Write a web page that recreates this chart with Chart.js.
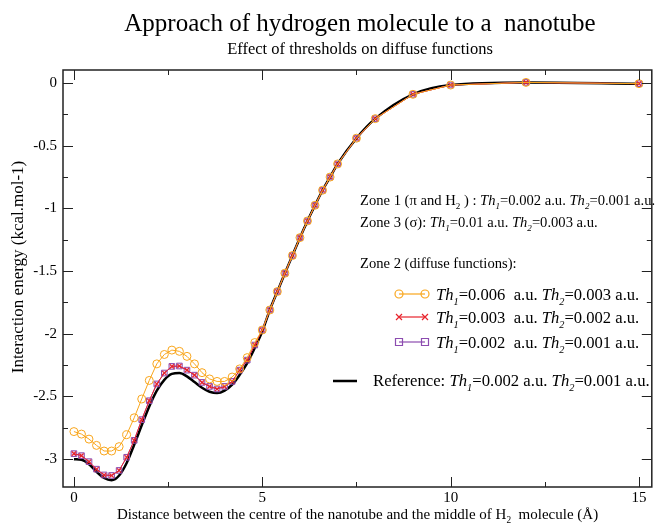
<!DOCTYPE html>
<html>
<head>
<meta charset="utf-8">
<script src="https://cdn.jsdelivr.net/npm/chart.js@4/dist/chart.umd.min.js"></script>
<style>
  html, body { margin: 0; padding: 0; background: #fff; }
  #wrap { width: 657px; height: 524px; }
</style>
</head>
<body>
<div id="wrap"><canvas id="c" width="657" height="524"></canvas></div>
<script>
// distance between nanotube centre and H2 middle (Å)
const distance = [0, 0.2, 0.4, 0.6, 0.8, 1.0, 1.2, 1.4, 1.6, 1.8, 2.0, 2.2, 2.4, 2.6, 2.8, 3.0, 3.2, 3.4, 3.6, 3.8,
    4.0, 4.2, 4.4, 4.6, 4.8, 5.0, 5.2, 5.4, 5.6, 5.8, 6.0, 6.2, 6.4, 6.6, 6.8, 7.0, 7.5, 8, 9, 10, 12, 15];

// interaction energy (kcal/mol)
const th006 = [-2.78, -2.80, -2.84, -2.89, -2.935, -2.935, -2.90, -2.805, -2.67, -2.52, -2.372, -2.24, -2.165, -2.13, -2.14,
    -2.18, -2.24, -2.31, -2.36, -2.38, -2.38, -2.345, -2.28, -2.19, -2.07, -1.97, -1.81, -1.663, -1.517, -1.376,
    -1.233, -1.10, -0.975, -0.855, -0.75, -0.645, -0.44, -0.284, -0.09, -0.016, 0.005, -0.005];
const th003 = [-2.956, -2.972, -3.02, -3.08, -3.126, -3.13, -3.09, -2.985, -2.85, -2.685, -2.534, -2.40, -2.313, -2.26, -2.257,
    -2.29, -2.33, -2.388, -2.42, -2.44, -2.42, -2.38, -2.29, -2.21, -2.09, -1.97, -1.81, -1.663, -1.517, -1.376,
    -1.233, -1.10, -0.975, -0.855, -0.75, -0.645, -0.44, -0.284, -0.09, -0.016, 0.005, -0.005];
const th002 = [-2.956, -2.972, -3.02, -3.08, -3.126, -3.13, -3.09, -2.985, -2.85, -2.685, -2.534, -2.40, -2.313, -2.26, -2.257,
    -2.29, -2.33, -2.388, -2.42, -2.44, -2.42, -2.38, -2.29, -2.21, -2.09, -1.97, -1.81, -1.663, -1.517, -1.376,
    -1.233, -1.10, -0.975, -0.855, -0.75, -0.645, -0.44, -0.284, -0.09, -0.016, 0.005, -0.005];
const reference = [-3.00, -3.005, -3.04, -3.10, -3.15, -3.168, -3.13, -3.03, -2.885, -2.73, -2.58, -2.454, -2.367, -2.32, -2.313,
    -2.34, -2.385, -2.43, -2.462, -2.473, -2.454, -2.406, -2.327, -2.234, -2.114, -1.98, -1.81, -1.663, -1.517, -1.376,
    -1.233, -1.10, -0.975, -0.855, -0.75, -0.645, -0.44, -0.284, -0.09, -0.016, 0.005, -0.005];

const xTicks = [0, 5, 10, 15];
const yTicks = [-3, -2.5, -2, -1.5, -1, -0.5, 0];

const ORANGE = '#f9a61c', RED = '#e8232c', PURPLE = '#8c4cb0';
const SERIF = '"Liberation Serif", "DejaVu Serif", serif';

const pts = arr => arr.map((y, i) => ({ x: distance[i], y }));

// draw text made of pieces, some italic, some lowered subscripts
const rich = (ctx, parts, x, y, size) => {
    for (const p of parts) {
        const s = p.sub ? size * 0.62 : size;
        ctx.font = `${p.it ? 'italic ' : ''}${s}px ${SERIF}`;
        ctx.fillText(p.t, x, y + (p.sub ? size * 0.28 : 0));
        x += ctx.measureText(p.t).width;
    }
    return x;
}

const thText = (a, b, gap) => [
    { t: 'Th', it: true }, { t: '1', it: true, sub: true }, { t: `=${a}${gap}a.u. ` },
    { t: 'Th', it: true }, { t: '2', it: true, sub: true }, { t: `=${b} a.u.` }
];

const marker = (ctx, kind, x, y) => {
    ctx.beginPath();
    if (kind === 'circle') ctx.arc(x, y, 4, 0, Math.PI * 2);
    else if (kind === 'rect') ctx.rect(x - 3.5, y - 3.5, 7, 7);
    else { ctx.moveTo(x - 3, y - 3); ctx.lineTo(x + 3, y + 3); ctx.moveTo(x + 3, y - 3); ctx.lineTo(x - 3, y + 3); }
    ctx.stroke();
}

const decor = {
    id: 'decor',
    afterDraw(chart) {
        const ctx = chart.ctx;
        const { left, right, top, bottom } = chart.chartArea;
        const xs = chart.scales.x, ys = chart.scales.y;
        ctx.save();
        ctx.fillStyle = '#000';
        ctx.strokeStyle = '#222';
        ctx.lineWidth = 1.5;
        ctx.strokeRect(left, top, right - left, bottom - top);

        // inward ticks on all four sides
        ctx.lineWidth = 1;
        ctx.beginPath();
        for (let v = 0; v <= 15; v += 2.5) {
            const px = Math.round(xs.getPixelForValue(v)) + 0.5;
            const len = v % 5 === 0 ? 10 : 5;
            ctx.moveTo(px, bottom); ctx.lineTo(px, bottom - len);
            ctx.moveTo(px, top); ctx.lineTo(px, top + len);
        }
        for (let v = -3; v <= 0.001; v += 0.25) {
            const py = Math.round(ys.getPixelForValue(v)) + 0.5;
            const len = Math.abs(v * 2 - Math.round(v * 2)) < 0.01 ? 10 : 5;
            ctx.moveTo(left, py); ctx.lineTo(left + len, py);
            ctx.moveTo(right, py); ctx.lineTo(right - len, py);
        }
        ctx.stroke();

        // titles
        ctx.textAlign = 'center';
        ctx.font = `25px ${SERIF}`;
        ctx.fillText('Approach of hydrogen molecule to a  nanotube', 360, 31);
        ctx.font = `16.5px ${SERIF}`;
        ctx.fillText('Effect of thresholds on diffuse functions', 360, 54);

        ctx.save();
        ctx.translate(23, 267);
        ctx.rotate(-Math.PI / 2);
        ctx.font = `17px ${SERIF}`;
        ctx.fillText('Interaction energy (kcal.mol-1)', 0, 0);
        ctx.restore();

        ctx.textAlign = 'left';
        rich(ctx, [{ t: 'Distance between the centre of the nanotube and the middle of H' }, { t: '2', sub: true },
            { t: '  molecule (Å)' }], 117, 519, 15);

        // annotations
        rich(ctx, [{ t: 'Zone 1 (π and H' }, { t: '2', sub: true }, { t: ' ) : ' }, ...thText('0.002', '0.001', ' ')], 360, 205, 14.6);
        rich(ctx, [{ t: 'Zone 3 (σ): ' }, ...thText('0.01', '0.003', ' ')], 360, 227, 14.6);
        rich(ctx, [{ t: 'Zone 2 (diffuse functions):' }], 360, 268, 14.6);

        const rows = [
            { c: ORANGE, m: 'circle', a: '0.006', b: '0.003', y: 294 },
            { c: RED, m: 'cross', a: '0.003', b: '0.002', y: 317 },
            { c: PURPLE, m: 'rect', a: '0.002', b: '0.001', y: 342 }
        ];
        for (const r of rows) {
            ctx.strokeStyle = r.c;
            ctx.lineWidth = 1.2;
            ctx.beginPath(); ctx.moveTo(399, r.y); ctx.lineTo(425, r.y); ctx.stroke();
            marker(ctx, r.m, 399, r.y);
            marker(ctx, r.m, 425, r.y);
            rich(ctx, thText(r.a, r.b, '  '), 436, r.y + 6, 16.6);
        }
        ctx.strokeStyle = '#000';
        ctx.lineWidth = 2.5;
        ctx.beginPath(); ctx.moveTo(333, 381); ctx.lineTo(357, 381); ctx.stroke();
        rich(ctx, [{ t: 'Reference: ' }, ...thText('0.002', '0.001', ' ')], 373, 386, 16.7);
        ctx.restore();
    }
};

new Chart(document.getElementById('c'), {
    type: 'line',
    data: {
        datasets: [
            { label: 'Th1=0.006 Th2=0.003', data: pts(th006), borderColor: ORANGE, borderWidth: 1,
              pointStyle: 'circle', pointRadius: 4, pointBorderColor: ORANGE, pointBackgroundColor: 'rgba(0,0,0,0)',
              pointBorderWidth: 1, tension: 0 },
            { label: 'Th1=0.003 Th2=0.002', data: pts(th003), borderColor: RED, borderWidth: 1,
              pointStyle: 'crossRot', pointRadius: 3, pointBorderColor: RED, pointBorderWidth: 1.2, tension: 0 },
            { label: 'Th1=0.002 Th2=0.001', data: pts(th002), borderColor: PURPLE, borderWidth: 1,
              pointStyle: 'rect', pointRadius: 4, pointBorderColor: PURPLE, pointBackgroundColor: 'rgba(140,76,176,0.15)',
              pointBorderWidth: 1, tension: 0 },
            { label: 'Reference', data: pts(reference), borderColor: '#000', borderWidth: 2.5,
              pointRadius: 0, cubicInterpolationMode: 'monotone', order: 5 }
        ]
    },
    options: {
        responsive: false,
        animation: false,
        layout: { padding: { top: 70, right: 1, left: 0, bottom: 0 } },
        plugins: { legend: { display: false }, tooltip: { enabled: false } },
        scales: {
            x: {
                type: 'linear', min: -0.29, max: 15.34,
                afterBuildTicks: s => { s.ticks = xTicks.map(value => ({ value })); },
                afterFit: s => { s.height = 37; },
                grid: { display: false, drawTicks: false }, border: { display: false },
                ticks: { color: '#000', font: { family: SERIF, size: 15 }, padding: 2, maxRotation: 0, callback: v => String(v) }
            },
            y: {
                type: 'linear', min: -3.222, max: 0.104,
                afterBuildTicks: s => { s.ticks = yTicks.map(value => ({ value })); },
                afterFit: s => { s.width = 63; },
                grid: { display: false, drawTicks: false }, border: { display: false },
                ticks: { color: '#000', font: { family: SERIF, size: 15 }, padding: 6, callback: v => String(v) }
            }
        }
    },
    plugins: [decor]
});
</script>
</body>
</html>
